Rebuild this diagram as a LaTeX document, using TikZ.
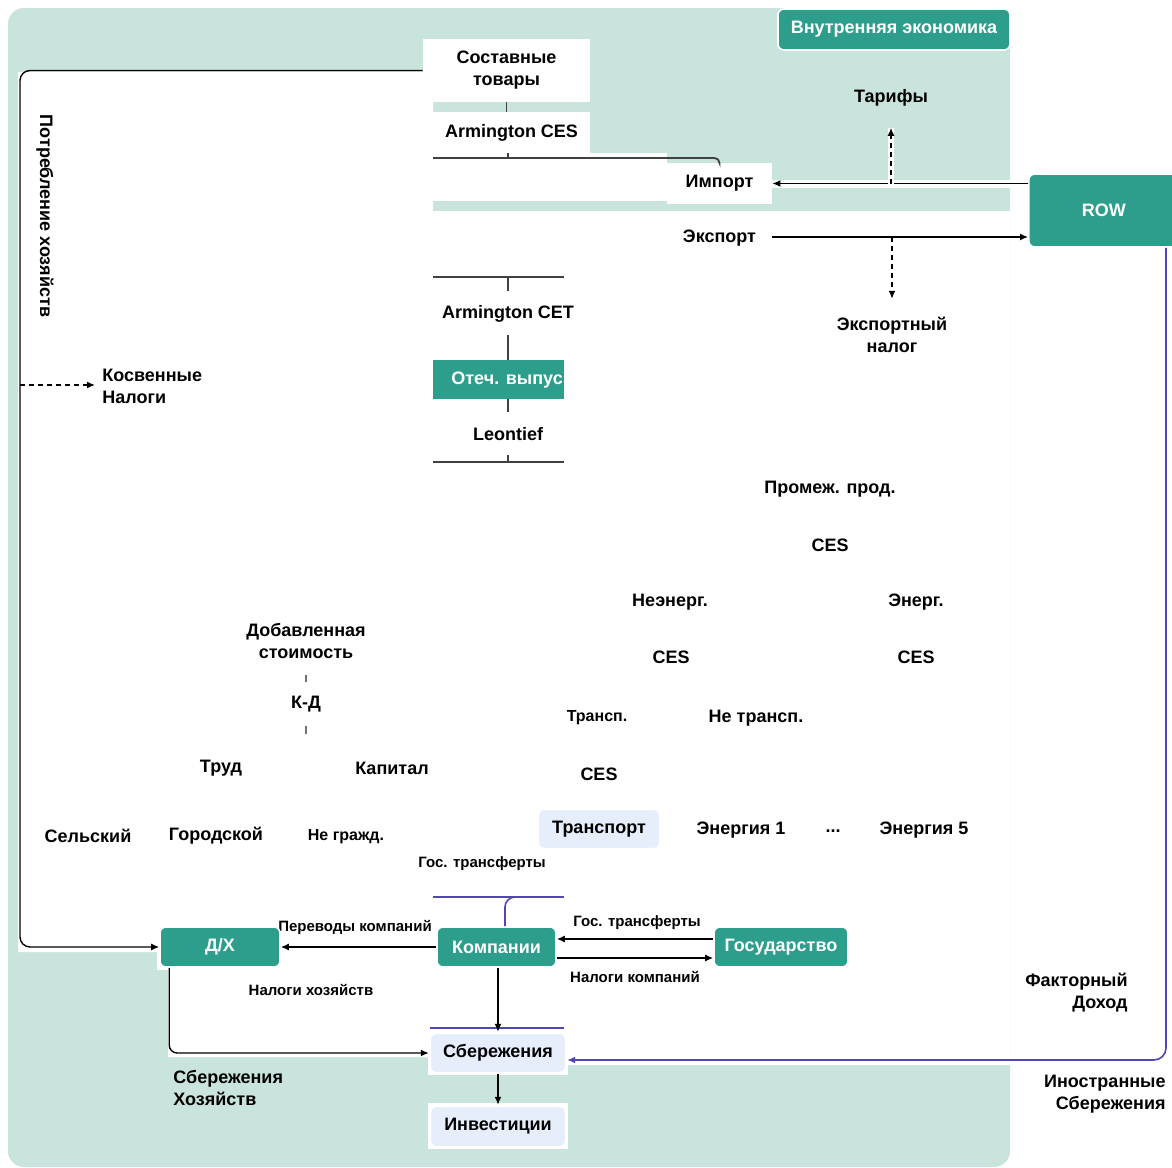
\documentclass[tikz,border=0pt]{standalone}
\usepackage{fontspec}
\setmainfont{Liberation Sans}
\usetikzlibrary{arrows.meta,positioning,calc}
\definecolor{bggreen}{HTML}{C8E4DC}
\definecolor{dkteal}{HTML}{2E9E8C}
\definecolor{paleblue}{HTML}{E6EDFB}
\definecolor{flowpurple}{HTML}{5046B4}

\begin{document}
\begin{tikzpicture}[x=0.5pt,y=-0.5pt,
  every node/.style={font=\bfseries\fontsize{9}{11}\selectfont,inner sep=0pt},
  lbl/.style={align=center},
  sml/.style={font=\bfseries\fontsize{7.5}{9}\selectfont},
  mid/.style={font=\bfseries\fontsize{8}{9.5}\selectfont},
  tbox/.style={fill=dkteal,draw=white,line width=0.8pt,rounded corners=3pt,text=white,minimum height=20pt},
  wbox/.style={fill=white,align=center,minimum height=20.5pt},
  pbox/.style={fill=paleblue,draw=white,line width=1.2pt,rounded corners=3pt,minimum height=20pt},
  ar/.style={-{Latex[length=4pt,width=3.5pt]},line width=0.7pt},
  dar/.style={ar,dash pattern=on 2.5pt off 2pt},
  ln/.style={line width=0.9pt,black!75},
  tick/.style={line width=1pt,black!55},
  pl/.style={flowpurple,line width=0.8pt}]
\useasboundingbox (0,0) rectangle (1172,1167);
\fill[bggreen,rounded corners=8pt] (8,8) rectangle (1010,1167);
\fill[white] (18,72) -- (433,72) -- (433,211) -- (1010,211) -- (1010,1065) -- (430,1065) -- (430,1057) -- (168,1057) -- (168,952) -- (18,952) -- cycle;
\fill[white] (433,153) rectangle (667,201);
\fill[white] (772,180) rectangle (1028,188);
\fill[white] (428,1030) rectangle (568,1075);
\fill[white] (428,1103) rectangle (568,1149);
\fill[white] (157,924) rectangle (284,970);

\node[tbox,minimum width=116pt,minimum height=20.5pt] (dom) at (894,29.5) {Внутренняя экономика};
\node[tbox,minimum width=75pt,minimum height=36.5pt,anchor=west] (row) at (1028,210.5) {ROW};
\node[wbox,minimum width=83.5pt,minimum height=31.5pt] (sost) at (506.5,70.5) {Составные\\товары};
\node[wbox,minimum width=78.5pt] (armces) at (511.5,132.5) {Armington CES};
\node[wbox,minimum width=52.5pt] (imp) at (719.5,183.5) {Импорт};
\node[lbl,minimum width=52.5pt] (exp) at (719.5,238) {Экспорт};
\node[lbl] (tar) at (891,98) {Тарифы};
\node[lbl] (extax) at (892,335) {Экспортный\\налог};

\node[lbl] (armcet) at (508,314) {Armington CET};
\node[tbox,rounded corners=0pt,draw=none,minimum width=65.5pt,minimum height=19.5pt] (otech) at (498.5,379.5) {};
\begin{scope}
\clip (otech.south west) rectangle (otech.north east);
\node[text=white,anchor=west] (otechtxt) at (451,380) {Отеч. выпуск};
\end{scope}
\node[lbl] (leon) at (508,434) {Leontief};

\foreach \nm/\px/\py/\tx in {prom/830/489/Промеж. прод., cesa/830/545/CES, nonen/670/602/Неэнерг., ener/916/602/Энерг., cesb/671/657/CES, cesc/916/657/CES, netr/756/718/Не трансп., cesd/599/774/CES, ena/741/830/Энергия 1, ene/924/830/Энергия 5, kd/306/704/К-Д, trud/221/768/Труд, kap/392/768/Капитал, sel/88/836/Сельский, gor/216/836/Городской}
  \node[lbl] (\nm) at (\px,\py) {\tx};
\node[lbl] (edots) at (833,831) {...};
\foreach \nm/\px/\py/\tx in {trsp/597/718/Трансп., negr/346/837/Не гражд.}
  \node[mid] (\nm) at (\px,\py) {\tx};
\foreach \nm/\px/\py/\tx in {gtra/482/864/Гос. трансферты, pk/355/927/Переводы компаний, gtrb/637/923/Гос. трансферты, nk/635/977/Налоги компаний, nhh/311/990/Налоги хозяйств}
  \node[sml] (\nm) at (\px,\py) {\tx};
\node[lbl] (addv) at (306,641) {Добавленная\\стоимость};
\node[pbox,minimum width=61pt] (transp) at (599,829) {Транспорт};

\node[tbox,minimum width=60pt] (dh) at (220,947) {Д/Х};
\node[tbox,minimum width=59.5pt] (komp) at (496.5,947) {Компании};
\node[tbox,minimum width=67pt] (gos) at (781,947) {Государство};
\node[pbox,minimum width=68pt] (sav) at (498,1053) {Сбережения};
\node[pbox,minimum width=68pt,minimum height=20.5pt] (inv) at (498,1126.5) {Инвестиции};

\node[rotate=-90] (cons) at (45,216) {Потребление хозяйств};
\node[align=left,anchor=west] (kosv) at (102,386) {Косвенные\\Налоги};
\node[align=left,anchor=west] (hhsav) at (173,1088) {Сбережения\\Хозяйств};
\node[align=right,anchor=east] (finc) at (1128,993) {Факторный\\Доход};
\node[align=right,anchor=east] (fsav) at (1166,1094) {Иностранные\\Сбережения};

\coordinate (lft) at (20,500);
\draw[ar,rounded corners=5pt] (sost.west) -| (lft) |- (dh.west);
\draw[dar] (lft |- 0,385) -- ($(kosv.west |- 0,385)+(-7,0)$);
\draw[ln] (sost.south) -- (sost.south |- armces.north);
\draw[ln] (508,153) -- (508,158);
\draw[ln,rounded corners=2.5pt] (433,158) -| (imp.north);
\draw[ar] (row.west |- imp.east) -- (imp.east);
\draw[ar] (exp.east |- 0,237) -- (row.west |- 0,237);
\draw[dar,shorten >=10.5pt,preaction={draw=white,line width=3pt,solid,arrows=-}] (tar.south |- imp.east) -- (tar.south);
\draw[dar,shorten >=9pt] (extax.north |- 0,237) -- (extax.north);

\draw[ln] (433,277) -- (564,277) (508,277) -- (508,291);
\draw[ln] (508,335) -- (508,360);
\draw[ln] (508,399) -- (508,412);
\draw[ln] (508,455) -- (508,462) (433,462) -- (564,462);
\draw[tick,shorten <=8pt,shorten >=7pt] (addv.south) -- (kd.north);
\draw[tick,shorten <=7pt] (kd.south) -- ++(0,22);

\draw[pl] (433,897) -- (564,897);
\draw[pl,rounded corners=5pt] ($(komp.north)+(8.5,0)$) |- (536,897);
\draw[pl] (430,1028) -- (564,1028);
\draw[ar] (komp.west) -- (dh.east);
\draw[ar] ($(gos.west)+(0,-8)$) -- ($(komp.east)+(0,-8)$);
\draw[ar] ($(komp.east)+(0,11)$) -- ($(gos.west)+(0,11)$);
\draw[ar] (komp.south -| sav.north) -- (sav.north);
\draw[ar] (sav) -- (inv);
\draw[ar,rounded corners=4pt] ($(dh.south west)+(10,0)$) |- (sav.west);
\draw[pl,-{Latex[length=4pt,width=3.5pt]},rounded corners=6pt] ($(row.south west)+(138,0)$) |- ($(sav.east)+(0,7)$);
\end{tikzpicture}
\end{document}
